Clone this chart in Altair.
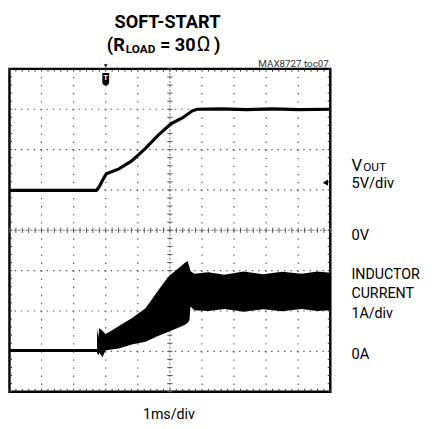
import altair as alt
import pandas as pd

# ---- data (screen divisions: x = 1 ms/div, y = divisions from screen centre) ----
vout_t = [0, 2.71, 2.80, 2.93, 3.02, 3.41, 3.81, 4.24, 4.63, 5.03, 5.40, 5.70, 5.85, 6.6, 7.4, 8.2, 9.0, 10]
vout_v = [0.99, 0.99, 1.08, 1.28, 1.40, 1.52, 1.72, 2.03, 2.35, 2.64, 2.79, 2.96, 3.0, 3.01, 2.99, 3.01, 2.99, 3.0]

il_base_t = [0, 2.74]
il_base_v = [-2.98, -2.98]

il_t = [2.73, 2.77, 2.80, 2.90, 2.99, 3.11, 3.41, 3.81, 4.24, 4.63, 4.94, 5.24, 5.46, 5.55, 5.61,
        5.64, 5.76, 6.2, 6.7, 7.3, 7.9, 8.5, 9.1, 9.6, 10]
il_hi = [-2.42, -2.66, -2.42, -2.49, -2.57, -2.52, -2.37, -2.18, -1.93, -1.50, -1.16, -0.96, -0.81, -0.76, -0.91,
         -1.01, -1.08, -1.04, -1.10, -1.02, -1.09, -1.03, -1.08, -1.02, -1.05]
il_lo = [-3.05, -3.10, -3.03, -3.15, -2.98, -2.96, -2.93, -2.83, -2.76, -2.62, -2.52, -2.42, -2.35, -2.30, -2.23,
         -1.89, -1.98, -2.00, -1.95, -2.02, -1.96, -2.01, -1.95, -2.00, -1.98]

xgrid = [1, 2, 3, 4, 6, 7, 8, 9]
ygrid = [-3, -2, -1, 1, 2, 3]

W, H = 327, 329
xs = alt.Scale(domain=[0, 10], nice=False, zero=False)
ys = alt.Scale(domain=[-4, 4], nice=False, zero=False)

FONT = "Roboto, sans-serif"
one = pd.DataFrame({"a": [0]})

def X(f):
    return alt.X(f, type="quantitative", scale=xs, axis=None)

def Y(f):
    return alt.Y(f, type="quantitative", scale=ys, axis=None)

layers = []

# dotted grid
layers.append(alt.Chart(pd.DataFrame({"g": xgrid})).mark_rule(
    color="#555", strokeWidth=1.2, strokeDash=[1.4, H / 40 - 1.4]).encode(x=X("g")))
layers.append(alt.Chart(pd.DataFrame({"g": ygrid})).mark_rule(
    color="#555", strokeWidth=1.2, strokeDash=[1.4, W / 50 - 1.4]).encode(y=Y("g")))

# centre lines
layers.append(alt.Chart(pd.DataFrame({"c": [5]})).mark_rule(
    color="#777", strokeWidth=1, strokeDash=[2.5, 1.6]).encode(x=X("c")))
layers.append(alt.Chart(pd.DataFrame({"c": [0]})).mark_rule(
    color="#777", strokeWidth=1, strokeDash=[2.5, 1.6]).encode(y=Y("c")))

# centre-line ticks
layers.append(alt.Chart(alt.sequence(0, 10.001, 0.2, as_="s")).mark_rule(color="#555", strokeWidth=1).encode(
    x=X("s"), y=alt.YDatum(0.065, scale=ys, axis=None), y2=alt.Y2Datum(-0.065)))
layers.append(alt.Chart(alt.sequence(-4, 4.001, 0.2, as_="s")).mark_rule(color="#555", strokeWidth=1).encode(
    y=Y("s"), x=alt.XDatum(4.92, scale=xs, axis=None), x2=alt.X2Datum(5.08)))

# edge ticks
layers.append(alt.Chart(alt.sequence(0, 10.001, 0.2, as_="s")).mark_rule(color="#333", strokeWidth=1).encode(
    x=X("s"), y=alt.YDatum(4, scale=ys, axis=None), y2=alt.Y2Datum(3.93)))
layers.append(alt.Chart(alt.sequence(0, 10.001, 0.2, as_="s")).mark_rule(color="#333", strokeWidth=1).encode(
    x=X("s"), y=alt.YDatum(-4, scale=ys, axis=None), y2=alt.Y2Datum(-3.93)))
layers.append(alt.Chart(alt.sequence(-4, 4.001, 0.2, as_="s")).mark_rule(color="#333", strokeWidth=1).encode(
    y=Y("s"), x=alt.XDatum(0, scale=xs, axis=None), x2=alt.X2Datum(0.08)))
layers.append(alt.Chart(alt.sequence(-4, 4.001, 0.2, as_="s")).mark_rule(color="#333", strokeWidth=1).encode(
    y=Y("s"), x=alt.XDatum(10, scale=xs, axis=None), x2=alt.X2Datum(9.92)))

# traces
layers.append(alt.Chart(pd.DataFrame({"t": vout_t, "v": vout_v})).mark_line(
    color="black", strokeWidth=3.2).encode(x=X("t"), y=Y("v")))
layers.append(alt.Chart(pd.DataFrame({"t": il_base_t, "v": il_base_v})).mark_line(
    color="black", strokeWidth=3).encode(x=X("t"), y=Y("v")))
layers.append(alt.Chart(pd.DataFrame({"t": il_t, "hi": il_hi, "lo": il_lo})).mark_area(
    color="black", opacity=1).encode(x=X("t"), y=Y("hi"), y2="lo"))

# trigger marker & level marker
shield = "M-0.55,-1 L0.55,-1 L0.55,0.45 Q0.55,1 0,1 Q-0.55,1 -0.55,0.45 Z"
layers.append(alt.Chart(one).mark_point(shape=shield, filled=True, color="black", size=160, opacity=1).encode(
    x=alt.XDatum(3.0, scale=xs, axis=None), y=alt.value(10.5)))
layers.append(alt.Chart(one).mark_text(text="T", color="white", fontSize=8, fontWeight="bold",
                                       font=FONT, baseline="middle").encode(
    x=alt.XDatum(3.0, scale=xs, axis=None), y=alt.value(9.5)))
layers.append(alt.Chart(one).mark_point(shape="triangle-down", filled=True, color="black", size=14, opacity=1).encode(
    x=alt.XDatum(3.0, scale=xs, axis=None), y=alt.value(-3)))
layers.append(alt.Chart(one).mark_point(shape="triangle-left", filled=True, color="black", size=40, opacity=1).encode(
    x=alt.value(322), y=alt.value(116)))

# texts
def txt(s, x, y, size, align="left", bold=False, font=FONT, color="black"):
    return alt.Chart(one).mark_text(text=s, align=align, baseline="alphabetic", fontSize=size,
                                    fontWeight="bold" if bold else "normal", font=font, color=color).encode(
        x=alt.value(x), y=alt.value(y))

layers += [
    txt("SOFT-START", 161, -42, 18.5, "center", True),
    txt("(R", 117.5, -18, 18.5, "right", True),
    txt("LOAD", 118.5, -16, 12, "left", True),
    txt("=", 153.5, -18, 18.5, "left", True),
    txt("30", 168.5, -18, 18.5, "left", True),
    txt("\u03a9", 191, -18, 21, "left", False),
    txt(")", 208.5, -18, 18.5, "left", True),
    txt("MAX8727 toc07", 325.5, -1.5, 10, "right", False, FONT, "#333"),
    txt("V", 348.5, 104, 17),
    txt("OUT", 360.5, 104, 12),
    txt("5V/div", 348.5, 121, 15),
    txt("0V", 348.5, 174, 15),
    txt("INDUCTOR", 348.5, 214, 14.5),
    txt("CURRENT", 348.5, 234, 14.5),
    txt("1A/div", 348.5, 254, 14.5),
    txt("0A", 348.5, 296, 15),
    txt("1ms/div", 162.5, 357, 14.5, "center"),
]

chart = alt.layer(*layers).properties(
    width=W, height=H,
    autosize=alt.AutoSizeParams(type="none"),
    padding={"left": 1.5, "top": 58, "right": 95.5, "bottom": 34},
).configure_view(stroke="black", strokeWidth=2.5)

chart.save("out.html", embed_options={"renderer": "svg", "actions": False})
